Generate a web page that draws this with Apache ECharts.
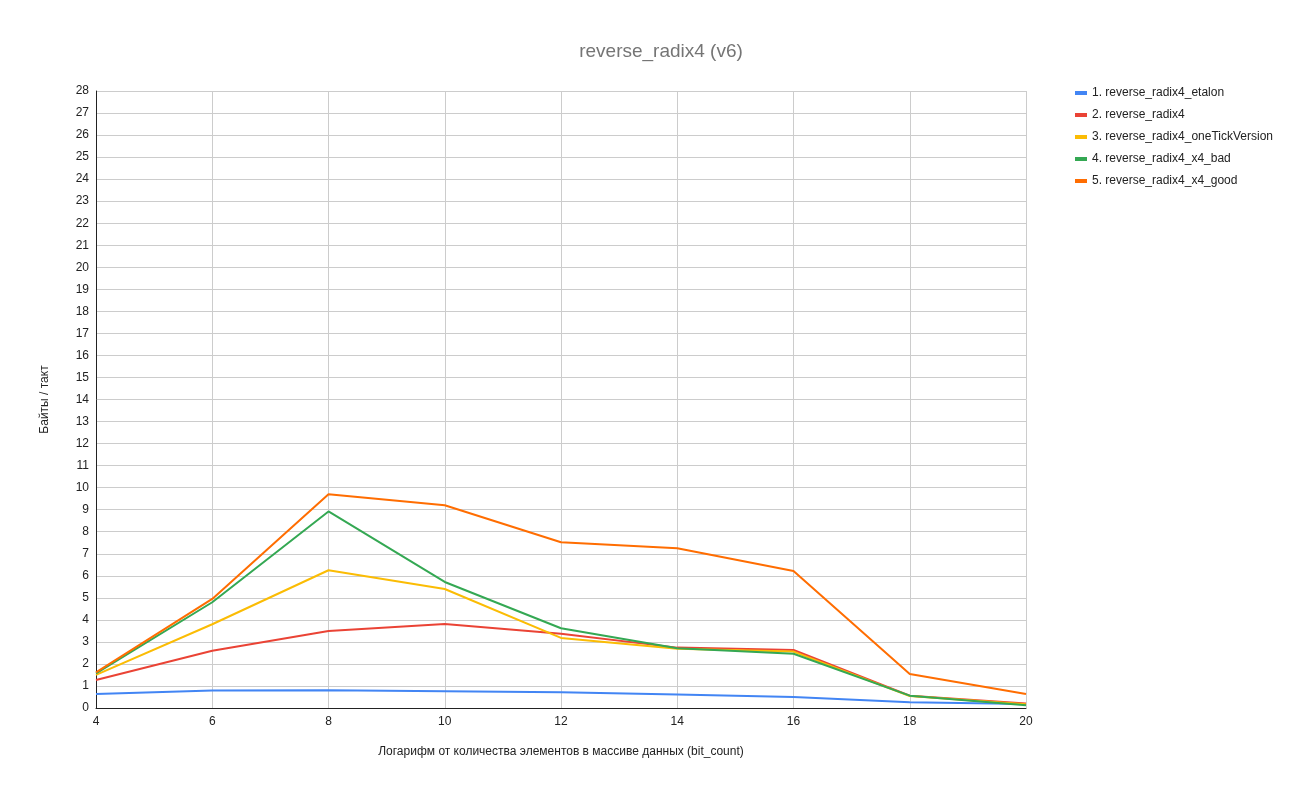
<!DOCTYPE html>
<html><head><meta charset="utf-8">
<script src="https://cdn.jsdelivr.net/npm/echarts@6/dist/echarts.min.js"></script>
<style>html,body{margin:0;padding:0;background:#fff}#c{width:1300px;height:795px}</style>
</head><body><div id="c"></div>
<script>
const xValues = [4, 6, 8, 10, 12, 14, 16, 18, 20];
const seriesNames = ['1. reverse_radix4_etalon','2. reverse_radix4','3. reverse_radix4_oneTickVersion','4. reverse_radix4_x4_bad','5. reverse_radix4_x4_good'];
const etalon = [0.63, 0.79, 0.81, 0.76, 0.71, 0.61, 0.50, 0.26, 0.18];
const radix4 = [1.27, 2.60, 3.49, 3.81, 3.37, 2.74, 2.63, 0.56, 0.20];
const oneTick = [1.50, 3.80, 6.25, 5.40, 3.18, 2.69, 2.56, 0.54, 0.17];
const x4bad = [1.57, 4.80, 8.92, 5.72, 3.62, 2.71, 2.46, 0.56, 0.12];
const x4good = [1.62, 4.95, 9.70, 9.20, 7.52, 7.25, 6.22, 1.54, 0.64];
const colors = ['#4285F4','#EA4335','#FBBC04','#34A853','#FF6D01'];
const allData = [etalon, radix4, oneTick, x4bad, x4good];
const FF = 'Arial, "Liberation Sans", sans-serif';

const chart = echarts.init(document.getElementById('c'));
chart.setOption({
  animation: false,
  title: {text: 'reverse_radix4 (v6)', left: 656, top: 37, textAlign: 'center',
    textStyle: {color: '#757575', fontSize: 19, fontWeight: 'normal', fontFamily: FF}},
  legend: {
    orient: 'vertical', left: 1070, top: 81, itemGap: 8, itemWidth: 12, itemHeight: 4,
    icon: 'rect',
    textStyle: {fontSize: 12, color: '#222', fontFamily: FF, lineHeight: 14},
    data: seriesNames
  },
  grid: {left: 96, right: 274, top: 91, bottom: 87},
  xAxis: {
    type: 'value', min: 4, max: 20, interval: 2,
    name: 'Логарифм от количества элементов в массиве данных (bit_count)',
    nameLocation: 'middle', nameGap: 38,
    nameTextStyle: {fontSize: 12, color: '#222', fontFamily: FF},
    axisLine: {show: true, lineStyle: {color: '#222', width: 1}},
    axisTick: {show: false},
    axisLabel: {color: '#222', fontSize: 12, margin: 8, fontFamily: FF},
    splitLine: {show: true, lineStyle: {color: '#cccccc'}}
  },
  yAxis: {
    type: 'value', min: 0, max: 28, interval: 1,
    name: 'Байты / такт', nameLocation: 'middle', nameGap: 45, nameRotate: 90,
    nameTextStyle: {fontSize: 12, color: '#222', fontFamily: FF},
    axisLine: {show: true, lineStyle: {color: '#222', width: 1}},
    axisTick: {show: false},
    axisLabel: {color: '#222', fontSize: 12, margin: 7, fontFamily: FF},
    splitLine: {show: true, lineStyle: {color: '#cccccc'}}
  },
  series: seriesNames.map((n, i) => ({
    name: n, type: 'line', showSymbol: false, symbol: 'none',
    color: colors[i],
    lineStyle: {width: 2, color: colors[i]},
    data: xValues.map((x, j) => [x, allData[i][j]])
  }))
});
</script></body></html>
